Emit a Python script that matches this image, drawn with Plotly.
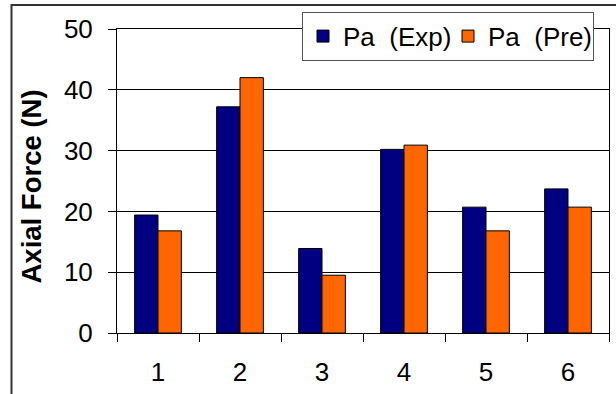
import plotly.graph_objects as go

categories = ["1", "2", "3", "4", "5", "6"]
pa_exp = [19.4, 37.2, 13.9, 30.2, 20.7, 23.7]
pa_pre = [16.8, 42.0, 9.5, 30.9, 16.8, 20.7]
y_ticks = [0, 10, 20, 30, 40, 50]

FONT = "Liberation Sans, Arial, sans-serif"
FS = 26
L, R, T, B = 117, 7, 29, 61
W, H = 616 - L - R, 394 - T - B

def px_x(px):
    return (px - L) / W

def px_y(py):
    return 1 - (py - T) / H

fig = go.Figure()
fig.add_trace(go.Bar(x=categories, y=pa_exp, name="Pa  (Exp)",
                     marker=dict(color="#000080", line=dict(color="black", width=1))))
fig.add_trace(go.Bar(x=categories, y=pa_pre, name="Pa  (Pre)",
                     marker=dict(color="#FF6600", line=dict(color="black", width=1))))

fig.update_layout(
    width=616, height=394,
    margin=dict(l=L, r=R, t=T, b=B),
    paper_bgcolor="white", plot_bgcolor="white",
    barmode="group", bargap=0.43, bargroupgap=0,
    font=dict(family=FONT, size=FS, color="black"),
    showlegend=True,
    legend=dict(orientation="h", x=px_x(302), y=px_y(11.7), xanchor="left", yanchor="top",
                bgcolor="white", bordercolor="#555555", borderwidth=1,
                font=dict(family=FONT, size=FS, color="black"),
                entrywidth=100, entrywidthmode="pixels"),
)
fig.update_xaxes(
    type="category", showgrid=False, showline=True, linecolor="black", linewidth=1,
    mirror=True, ticks="outside", ticklen=8, tickcolor="black", tickson="boundaries",
    tickfont=dict(family=FONT, size=FS), ticklabelstandoff=16,
)
fig.update_yaxes(
    range=[0, 50], tickvals=y_ticks, showgrid=True, gridcolor="black", gridwidth=1,
    showline=True, linecolor="black", linewidth=1, mirror=True,
    ticks="outside", ticklen=8, tickcolor="black",
    tickfont=dict(family=FONT, size=FS), ticklabelstandoff=10, zeroline=False,
)
fig.add_annotation(text="<b>Axial Force (N)</b>", textangle=-90,
                   xref="paper", yref="paper", x=px_x(31), y=px_y(186.5),
                   xanchor="center", yanchor="middle", showarrow=False,
                   font=dict(family=FONT, size=27.5, color="black"))
fig.add_shape(type="rect", xref="paper", yref="paper",
              x0=px_x(11.5), x1=px_x(625), y0=px_y(405), y1=px_y(5),
              line=dict(color="#333333", width=2), fillcolor="rgba(0,0,0,0)", layer="below")

fig.write_html("out.html", post_script="document.body.style.margin='0';",
               config={"displayModeBar": False})
